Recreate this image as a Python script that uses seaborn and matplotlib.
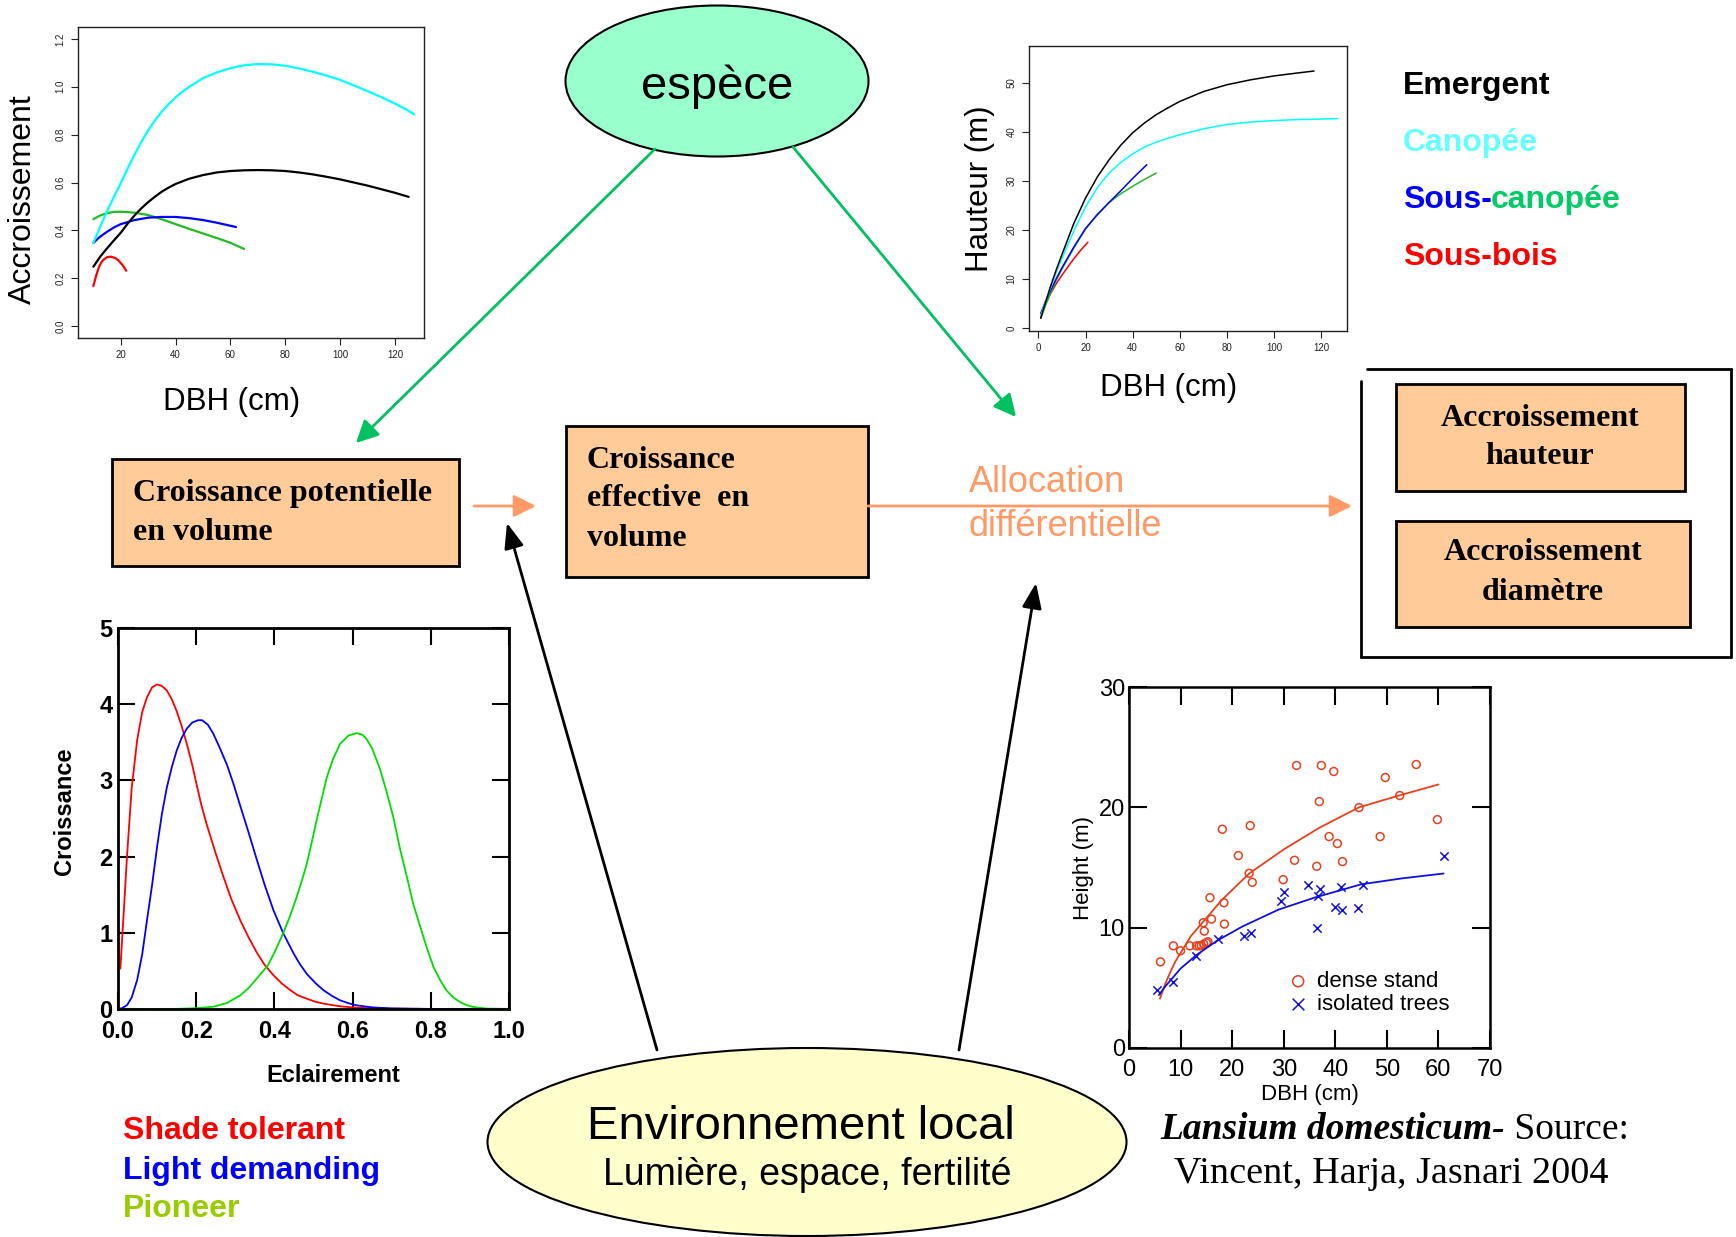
import numpy as np
import pandas as pd
import seaborn as sns
import matplotlib
matplotlib.use("Agg")
from matplotlib import pyplot as plt
from matplotlib.patches import Ellipse, Rectangle
from matplotlib.lines import Line2D

# --- data ------------------------------------------------------------------
# top left: diameter increment vs DBH, by strata
inc_cyan_x = [10, 12.5, 15, 17.5, 20, 22.5, 25, 27.5, 30, 32.5, 35, 37.5, 40, 42.5, 45, 50, 55, 60, 65, 70, 75, 80, 85, 90, 95, 100, 105, 110, 115, 120, 124, 127]
inc_cyan_y = [0.348, 0.415, 0.48, 0.54, 0.597, 0.658, 0.716, 0.77, 0.818, 0.86, 0.897, 0.928, 0.956, 0.98, 1.0, 1.036, 1.06, 1.078, 1.09, 1.095, 1.094, 1.088, 1.077, 1.063, 1.047, 1.029, 1.006, 0.982, 0.957, 0.93, 0.906, 0.885]
inc_black_x = [10, 12.5, 15, 17.5, 20, 22.5, 25, 27.5, 30, 32.5, 35, 37.5, 40, 45, 50, 55, 60, 65, 70, 75, 80, 85, 90, 95, 100, 105, 110, 115, 120, 125]
inc_black_y = [0.248, 0.29, 0.325, 0.358, 0.39, 0.428, 0.462, 0.492, 0.518, 0.541, 0.562, 0.579, 0.594, 0.616, 0.631, 0.642, 0.648, 0.651, 0.652, 0.651, 0.648, 0.642, 0.634, 0.624, 0.613, 0.60, 0.587, 0.572, 0.557, 0.54]
inc_green_x = [10, 12.5, 15, 17.5, 20, 25, 30, 35, 40, 45, 50, 55, 60, 65]
inc_green_y = [0.447, 0.462, 0.472, 0.477, 0.478, 0.474, 0.464, 0.446, 0.426, 0.406, 0.387, 0.368, 0.348, 0.322]
inc_blue_x = [10, 12.5, 15, 17.5, 20, 25, 30, 35, 40, 45, 50, 55, 62]
inc_blue_y = [0.348, 0.374, 0.394, 0.412, 0.426, 0.443, 0.453, 0.456, 0.456, 0.451, 0.443, 0.432, 0.414]
inc_red_x = [10, 11, 12, 13, 14, 15, 16.5, 18, 19, 20.5, 22]
inc_red_y = [0.167, 0.21, 0.245, 0.268, 0.28, 0.288, 0.29, 0.284, 0.276, 0.257, 0.231]

# top right: height vs DBH, by strata
h_black_x = [1, 3, 5, 7.5, 10, 15, 20, 25, 30, 35, 40, 45, 50, 55, 60, 70, 80, 90, 100, 110, 117]
h_black_y = [2.0, 5.2, 8.3, 11.8, 15.0, 21.3, 26.5, 30.8, 34.3, 37.3, 39.8, 41.8, 43.5, 44.9, 46.2, 48.2, 49.6, 50.6, 51.4, 52.0, 52.4]
h_cyan_x = [1, 3, 5, 7.5, 10, 15, 20, 25, 30, 35, 40, 45, 50, 55, 60, 70, 80, 90, 100, 110, 120, 127]
h_cyan_y = [2.5, 5.3, 8.0, 11.3, 14.2, 19.8, 24.7, 28.6, 31.6, 33.8, 35.5, 36.9, 37.9, 38.7, 39.4, 40.6, 41.5, 42.0, 42.3, 42.5, 42.6, 42.7]
h_blue_x = [1, 3, 5, 7.5, 10, 15, 20, 25, 30, 35, 40, 46]
h_blue_y = [3.0, 5.4, 7.5, 10.0, 12.3, 16.5, 20.3, 23.1, 25.6, 28.0, 30.5, 33.3]
h_green_x = [1, 3, 5, 7.5, 10, 15, 20, 25, 30, 35, 40, 45, 50]
h_green_y = [2.0, 4.6, 7.0, 9.7, 12.0, 16.3, 20.2, 23.2, 25.6, 27.4, 28.9, 30.3, 31.6]
h_red_x = [1, 3, 5, 7.5, 10, 13, 15, 18, 21]
h_red_y = [2.5, 4.8, 6.9, 9.0, 10.8, 12.8, 14.1, 15.9, 17.5]

strata_names = ["Emergent", "Canopée", "Sous-", "canopée", "Sous-bois"]

# bottom left: growth vs light for three temperaments
light_red_x = [0.006, 0.015, 0.023, 0.035, 0.049, 0.062, 0.074, 0.087, 0.100, 0.112, 0.125, 0.138, 0.150, 0.163, 0.176, 0.190, 0.200, 0.213, 0.227, 0.250, 0.270, 0.290, 0.313, 0.335, 0.355, 0.375, 0.398, 0.420, 0.440, 0.460, 0.483, 0.505, 0.526, 0.568, 0.610, 0.653, 0.700, 0.800, 1.000]
light_red_y = [0.53, 1.3, 2.0, 2.9, 3.53, 3.9, 4.09, 4.22, 4.26, 4.24, 4.18, 4.06, 3.91, 3.71, 3.48, 3.2, 2.97, 2.68, 2.42, 2.04, 1.73, 1.44, 1.16, 0.93, 0.74, 0.58, 0.44, 0.33, 0.25, 0.18, 0.135, 0.095, 0.07, 0.035, 0.017, 0.008, 0.004, 0.001, 0.0]
light_blue_x = [0.0, 0.010, 0.023, 0.035, 0.049, 0.062, 0.074, 0.087, 0.100, 0.112, 0.125, 0.138, 0.150, 0.163, 0.176, 0.190, 0.205, 0.215, 0.230, 0.244, 0.260, 0.279, 0.295, 0.313, 0.335, 0.355, 0.375, 0.398, 0.423, 0.449, 0.465, 0.483, 0.505, 0.526, 0.548, 0.568, 0.590, 0.610, 0.653, 0.700, 0.800, 1.0]
light_blue_y = [0.0, 0.01, 0.05, 0.15, 0.38, 0.72, 1.16, 1.62, 2.13, 2.55, 2.91, 3.18, 3.39, 3.56, 3.68, 3.76, 3.79, 3.79, 3.73, 3.61, 3.43, 3.2, 2.96, 2.66, 2.3, 1.96, 1.63, 1.29, 0.99, 0.73, 0.59, 0.46, 0.34, 0.245, 0.17, 0.114, 0.075, 0.048, 0.02, 0.008, 0.001, 0.0]
light_green_x = [0.0, 0.15, 0.2, 0.244, 0.279, 0.313, 0.335, 0.355, 0.383, 0.400, 0.422, 0.440, 0.457, 0.470, 0.483, 0.496, 0.509, 0.522, 0.534, 0.550, 0.568, 0.590, 0.610, 0.625, 0.636, 0.650, 0.670, 0.687, 0.704, 0.720, 0.739, 0.755, 0.773, 0.790, 0.807, 0.825, 0.840, 0.858, 0.875, 0.892, 0.909, 0.943, 1.0]
light_green_y = [0.0, 0.002, 0.01, 0.03, 0.08, 0.18, 0.28, 0.40, 0.57, 0.74, 0.99, 1.22, 1.47, 1.68, 1.91, 2.2, 2.5, 2.78, 3.04, 3.28, 3.48, 3.59, 3.62, 3.6, 3.54, 3.42, 3.15, 2.85, 2.52, 2.13, 1.73, 1.38, 1.08, 0.80, 0.55, 0.37, 0.245, 0.15, 0.09, 0.05, 0.026, 0.005, 0.0]
temperaments = ["Shade tolerant", "Light demanding", "Pioneer"]

# bottom right: Lansium domesticum height vs DBH
dense_dbh = [6.1, 8.6, 10.0, 11.8, 13.1, 13.6, 14.0, 14.5, 15.0, 15.3, 14.4, 14.6, 16.0, 15.7, 18.4, 18.5, 18.1, 21.2, 23.5, 23.3, 23.9, 29.9, 32.1, 32.5, 36.4, 36.9, 37.3, 38.8, 39.7, 40.4, 41.4, 44.6, 48.7, 49.7, 52.5, 55.7, 59.8]
dense_h = [7.16, 8.49, 8.08, 8.49, 8.49, 8.49, 8.52, 8.63, 8.74, 8.83, 10.41, 9.71, 10.71, 12.49, 12.07, 10.30, 18.18, 15.99, 18.48, 14.52, 13.77, 13.99, 15.6, 23.48, 15.1, 20.48, 23.48, 17.57, 22.98, 16.99, 15.49, 19.98, 17.57, 22.48, 20.98, 23.56, 18.98]
iso_dbh = [5.5, 8.5, 13.0, 17.2, 22.3, 23.7, 29.4, 30.0, 34.7, 36.4, 36.7, 37.1, 40.0, 41.3, 41.2, 44.5, 45.3, 61.1]
iso_h = [4.80, 5.50, 7.63, 9.02, 9.33, 9.55, 12.21, 12.99, 13.57, 9.99, 12.63, 13.24, 11.71, 11.49, 13.35, 11.60, 13.57, 15.99]
dense_fit_x = [6, 7, 8, 9, 10, 12, 14.4, 18, 23.3, 30, 36.9, 44.6, 52.5, 60]
dense_fit_y = [4.1, 5.3, 6.3, 7.2, 7.9, 9.3, 10.5, 12.3, 14.5, 16.5, 18.3, 20.0, 21.0, 21.9]
iso_fit_x = [5.8, 7, 8, 10, 13, 17, 22, 29, 36, 45, 53, 61]
iso_fit_y = [4.4, 5.1, 5.6, 6.6, 7.7, 8.9, 10.1, 11.5, 12.5, 13.6, 14.1, 14.5]

# --- figure ------------------------------------------------------------------
W, H = 1736, 1237
sns.set_theme(style="white")
plt.rcParams['font.family'] = ['Liberation Sans', 'DejaVu Sans']
plt.rcParams['text.color'] = 'black'
plt.rcParams['axes.labelcolor'] = 'black'
fig = plt.figure(figsize=(W / 100, H / 100), dpi=100)

SERIF = ['Liberation Serif', 'DejaVu Serif']
ORANGE = '#FF9966'
GREEN_ARROW = '#00C060'
PEACH = '#FFCC99'

# overlay in pixel coordinates for the diagram parts
ax0 = fig.add_axes([0, 0, 1, 1])
ax0.set_xlim(0, W)
ax0.set_ylim(H, 0)
ax0.axis('off')


def place(l, t, r, b):
    a = fig.add_axes([l / W, 1 - b / H, (r - l) / W, (b - t) / H])
    a.set_facecolor('none')
    return a


def arrow(x0, y0, x1, y1, color, lw=2, hl=0.9, hw=0.45, ms=15):
    ax0.annotate('', xy=(x1, y1), xytext=(x0, y0),
                 arrowprops=dict(arrowstyle='-|>,head_length=%s,head_width=%s' % (hl, hw),
                                 color=color, lw=lw, shrinkA=0, shrinkB=0, mutation_scale=ms))


def rplot_style(a):
    for s in a.spines.values():
        s.set_linewidth(1.0)
        s.set_color('#222222')
    a.tick_params(direction='out', length=5, width=0.8, colors='#222222', labelsize=7, pad=4,
                  bottom=True, left=True)
    for lab in a.get_yticklabels():
        lab.set_rotation(90)
        lab.set_va('center')


# ellipses
ax0.add_patch(Ellipse((717, 81), 303, 151, facecolor='#99FFCC', edgecolor='black', lw=1.5))
ax0.text(717, 87, 'espèce', fontsize=34, ha='center', va='center')
ax0.add_patch(Ellipse((807, 1142), 639, 188, facecolor='#FFFFCC', edgecolor='black', lw=1.5))
ax0.text(801, 1127, 'Environnement local', fontsize=34, ha='center', va='center')
ax0.text(807, 1175, 'Lumière, espace, fertilité', fontsize=27, ha='center', va='center')

# boxes
BOXFONT = dict(family=SERIF, weight='bold', fontsize=23)
ax0.add_patch(Rectangle((112, 459), 347, 107, facecolor=PEACH, edgecolor='black', lw=2))
ax0.text(133, 493, 'Croissance potentielle', va='center', **BOXFONT)
ax0.text(133, 532, 'en volume', va='center', **BOXFONT)
ax0.add_patch(Rectangle((566, 426), 302, 151, facecolor=PEACH, edgecolor='black', lw=2))
for yy, line in zip([460, 499, 538], ['Croissance', 'effective  en', 'volume']):
    ax0.text(587, yy, line, va='center', **BOXFONT)

ax0.add_line(Line2D([1367, 1731], [369, 369], color='black', lw=2))
ax0.add_line(Line2D([1361, 1361], [381, 657], color='black', lw=2))
ax0.add_line(Line2D([1731, 1731], [369, 657], color='black', lw=2))
ax0.add_line(Line2D([1361, 1731], [657, 657], color='black', lw=2))
ax0.add_patch(Rectangle((1396, 384), 289, 107, facecolor=PEACH, edgecolor='black', lw=2))
ax0.add_patch(Rectangle((1396, 521), 294, 106, facecolor=PEACH, edgecolor='black', lw=2))
ax0.text(1540, 418, 'Accroissement', ha='center', va='center', **BOXFONT)
ax0.text(1540, 456, 'hauteur', ha='center', va='center', **BOXFONT)
ax0.text(1543, 553, 'Accroissement', ha='center', va='center', **BOXFONT)
ax0.text(1543, 592, 'diamètre', ha='center', va='center', **BOXFONT)

# arrows
arrow(655, 149, 356, 443, GREEN_ARROW)
arrow(793, 147, 1016, 417, GREEN_ARROW)
arrow(474, 506, 536, 506, ORANGE)
arrow(868, 506, 1352, 506, ORANGE)
arrow(657, 1050, 507, 523, 'black', hl=0.9, hw=0.35, ms=17)
arrow(959, 1050, 1036, 583, 'black', hl=0.9, hw=0.35, ms=17)
ax0.text(969, 483, 'Allocation', color=ORANGE, fontsize=26, va='center')
ax0.text(969, 527, 'différentielle', color=ORANGE, fontsize=26, va='center')

# strata legend (top right)
ax0.text(1403, 86, strata_names[0], color='black', weight='bold', fontsize=23, va='center')
ax0.text(1403, 143, strata_names[1], color='#66FFFF', weight='bold', fontsize=23, va='center')
ax0.text(1403, 200, strata_names[2], color='#0000FF', weight='bold', fontsize=23, va='center')
ax0.text(1491, 200, strata_names[3], color='#00CC66', weight='bold', fontsize=23, va='center')
ax0.text(1403, 257, strata_names[4], color='#FF0000', weight='bold', fontsize=23, va='center')

# temperament legend (bottom left)
for yy, name, c in zip([1131, 1171, 1209], temperaments, ['#FF0000', '#0000FF', '#99CC00']):
    ax0.text(123, yy, name, color=c, weight='bold', fontsize=23, va='center')

# source
ax0.text(1505, 1139, 'Lansium domesticum-', family=SERIF, weight='bold', style='italic',
         fontsize=27, ha='right', va='baseline')
ax0.text(1505, 1139, ' Source:', family=SERIF, fontsize=27, ha='left', va='baseline')
ax0.text(1391, 1174, 'Vincent, Harja, Jasnari 2004', family=SERIF, fontsize=27.5, ha='center', va='center')

# --- top left: increment ------------------------------------------------------
ax1 = place(78, 27, 424, 338)
for xs, ys, c in [(inc_green_x, inc_green_y, '#22BB22'), (inc_blue_x, inc_blue_y, '#0000FF'),
                  (inc_black_x, inc_black_y, 'black'), (inc_cyan_x, inc_cyan_y, '#00FFFF'),
                  (inc_red_x, inc_red_y, '#FF0000')]:
    sns.lineplot(x=xs, y=ys, ax=ax1, color=c, lw=1.6, sort=False, estimator=None)
ax1.set_xlim(4.4, 130.6)
ax1.set_ylim(-0.05, 1.25)
ax1.set_xticks([20, 40, 60, 80, 100, 120])
ax1.set_yticks([0, 0.2, 0.4, 0.6, 0.8, 1.0, 1.2])
ax1.set_yticklabels(['0.0', '0.2', '0.4', '0.6', '0.8', '1.0', '1.2'])
rplot_style(ax1)
ax1.set_xlabel('DBH (cm)', fontsize=22.5, labelpad=19)
ax1.set_ylabel('Accroissement', fontsize=23, labelpad=13)
ax1.xaxis.label.set_x(0.445)
ax1.yaxis.label.set_y(0.447)

# --- top right: height ----------------------------------------------------------
ax2 = place(1029, 46, 1347, 331)
for xs, ys, c in [(h_red_x, h_red_y, '#FF0000'), (h_green_x, h_green_y, '#22BB22'),
                  (h_blue_x, h_blue_y, '#0000FF'), (h_cyan_x, h_cyan_y, '#00FFFF'),
                  (h_black_x, h_black_y, 'black')]:
    sns.lineplot(x=xs, y=ys, ax=ax2, color=c, lw=1.1, sort=False, estimator=None)
ax2.set_xlim(-4, 131)
ax2.set_ylim(-0.6, 57.5)
ax2.set_xticks([0, 20, 40, 60, 80, 100, 120])
ax2.set_yticks([0, 10, 20, 30, 40, 50])
rplot_style(ax2)
ax2.set_xlabel('DBH (cm)', fontsize=22.5, labelpad=14)
ax2.set_ylabel('Hauteur (m)', fontsize=22.5, labelpad=8)
ax2.xaxis.label.set_x(0.44)

# --- bottom left: growth vs light ------------------------------------------------
ax3 = place(118, 628, 509, 1009)
for xs, ys, c in [(light_red_x, light_red_y, '#FF0000'), (light_blue_x, light_blue_y, '#0000FF'),
                  (light_green_x, light_green_y, '#00DD00')]:
    sns.lineplot(x=xs, y=ys, ax=ax3, color=c, lw=1.3, sort=False, estimator=None)
ax3.set_xlim(0, 1)
ax3.set_ylim(0, 5)
ax3.set_xticks([0, 0.2, 0.4, 0.6, 0.8, 1.0])
ax3.set_xticklabels(['0.0', '0.2', '0.4', '0.6', '0.8', '1.0'])
ax3.set_yticks([0, 1, 2, 3, 4, 5])
for s in ax3.spines.values():
    s.set_linewidth(2)
    s.set_color('black')
ax3.tick_params(direction='in', length=12, width=1.5, top=True, right=True, bottom=True, left=True,
                labelsize=17, colors='black')
ax3.tick_params(axis='x', pad=8)
ax3.tick_params(axis='y', pad=4)
for lab in ax3.get_xticklabels() + ax3.get_yticklabels():
    lab.set_fontweight('bold')
ax3.set_xlabel('Eclairement', fontsize=17, weight='bold', labelpad=15)
ax3.set_ylabel('Croissance', fontsize=17, weight='bold', labelpad=17)
ax3.xaxis.label.set_x(0.55)
ax3.yaxis.label.set_y(0.52)

# --- bottom right: Lansium scatter -----------------------------------------------
ax4 = place(1129, 687, 1490, 1048)
RED_PT = '#E8401C'
BLUE_PT = '#1010E0'
sns.lineplot(x=dense_fit_x, y=dense_fit_y, ax=ax4, color=RED_PT, lw=1.3, sort=False, estimator=None)
sns.lineplot(x=iso_fit_x, y=iso_fit_y, ax=ax4, color=BLUE_PT, lw=1.3, sort=False, estimator=None)
sns.scatterplot(x=dense_dbh, y=dense_h, ax=ax4, marker='o', s=32, facecolor='none',
                edgecolor=RED_PT, linewidth=1.1, label='dense stand')
sns.scatterplot(x=iso_dbh, y=iso_h, ax=ax4, marker='x', s=36, color=BLUE_PT,
                linewidth=1.1, label='isolated trees')
ax4.set_xlim(0, 70)
ax4.set_ylim(0, 30)
ax4.set_xticks(range(0, 71, 10))
ax4.set_yticks([0, 10, 20, 30])
for s in ax4.spines.values():
    s.set_linewidth(1.8)
    s.set_color('black')
ax4.tick_params(direction='in', length=13, width=1.5, top=True, right=True, bottom=True, left=True,
                labelsize=17, colors='black')
ax4.tick_params(axis='x', pad=8)
ax4.tick_params(axis='y', pad=3)
ax4.set_xlabel('DBH (cm)', fontsize=16, labelpad=2)
ax4.set_ylabel('Height (m)', fontsize=16, labelpad=3)
ax4.legend(loc='upper left', bbox_to_anchor=(0.444, 0.213), frameon=False, fontsize=16,
           handlelength=0.8, handletextpad=0.45, labelspacing=0.1, borderpad=0, borderaxespad=0,
           markerscale=1.4)

fig.savefig('out.png', dpi=100)
